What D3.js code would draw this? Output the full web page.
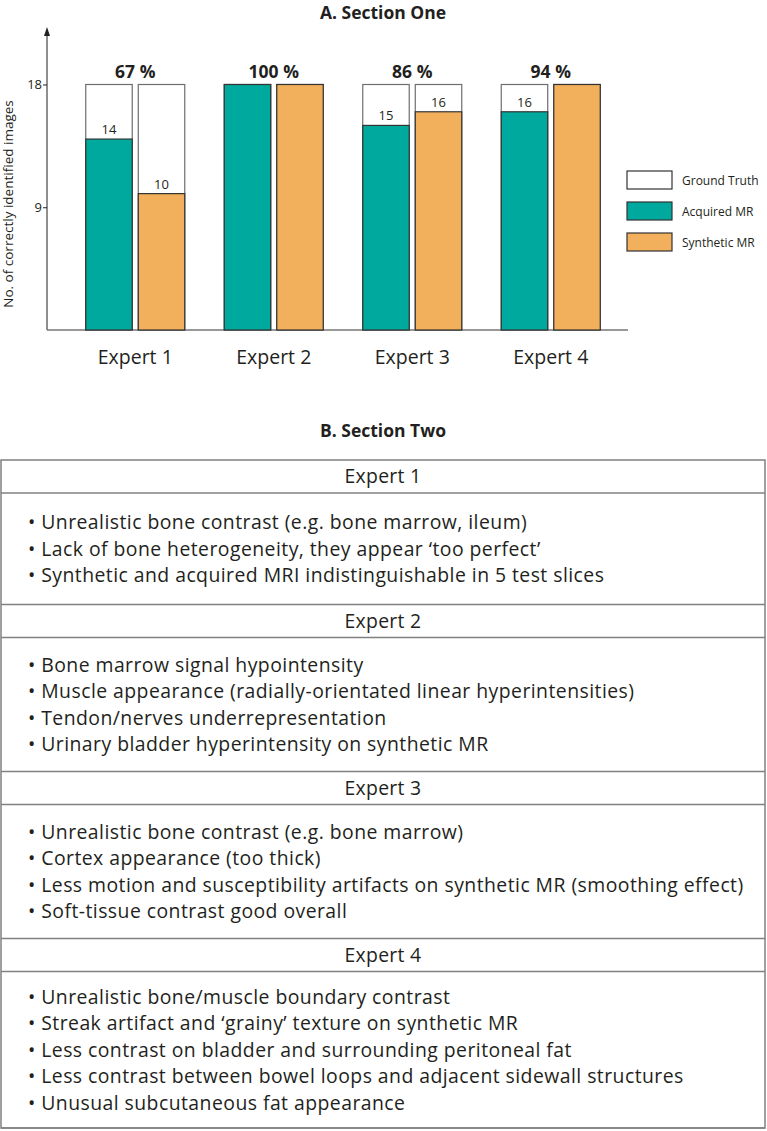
<!DOCTYPE html>
<html>
<head>
<meta charset="utf-8">
<script src="https://cdn.jsdelivr.net/npm/d3@7"></script>
<style>
  body { margin: 0; background: #fff; }
  svg text { font-family: "Open Sans", sans-serif; fill: #231f20; }
</style>
</head>
<body>
<div id="chart"></div>
<script>
// data
const experts = ["Expert 1", "Expert 2", "Expert 3", "Expert 4"];
const groundTruth = [18, 18, 18, 18];
const acquired = [14, 18, 15, 16];
const synthetic = [10, 18, 16, 18];
const accuracy = [67, 100, 86, 94];
const yTicks = [9, 18];
const legendLabels = ["Ground Truth", "Acquired MR", "Synthetic MR"];

const notes1 = [
  "Unrealistic bone contrast (e.g. bone marrow, ileum)",
  "Lack of bone heterogeneity, they appear  \u2018too perfect\u2019",
  "Synthetic and acquired MRI indistinguishable in 5 test slices"
];
const notes2 = [
  "Bone marrow signal hypointensity",
  "Muscle appearance (radially-orientated linear hyperintensities)",
  "Tendon/nerves underrepresentation",
  "Urinary bladder hyperintensity on synthetic MR"
];
const notes3 = [
  "Unrealistic bone contrast (e.g. bone marrow)",
  "Cortex appearance (too thick)",
  "Less motion and susceptibility artifacts on synthetic MR (smoothing effect)",
  "Soft-tissue contrast good overall"
];
const notes4 = [
  "Unrealistic bone/muscle boundary contrast",
  "Streak artifact and \u2018grainy\u2019 texture on synthetic MR",
  "Less contrast on bladder and surrounding peritoneal fat",
  "Less contrast between bowel loops and adjacent sidewall structures",
  "Unusual subcutaneous fat appearance"
];

const WIDTH = 767;
const HEIGHT = 1131;
const COLORS = { truth: "#ffffff", acquired: "#00a99d", synthetic: "#f2b05c" };

const svg = d3.select("#chart").append("svg")
  .attr("width", WIDTH)
  .attr("height", HEIGHT);

// ---------- Section A: bar chart ----------
const AXIS_X = 47;
const BASE_Y = 330;

svg.append("text")
  .attr("x", 383).attr("y", 19)
  .attr("text-anchor", "middle")
  .attr("font-size", "17.5px")
  .attr("font-weight", "bold")
  .text("A. Section One");

const x = d3.scaleBand().domain(experts).range([66, 620]);
const inner = d3.scaleBand()
  .domain(["acquired", "synthetic"])
  .range([x.bandwidth() / 2 - 49.5, x.bandwidth() / 2 + 49.5])
  .paddingInner(0.115);
const y = d3.scaleLinear().domain([0, 18]).range([BASE_Y, 84.5]);

// axes
svg.append("line")
  .attr("x1", AXIS_X).attr("x2", AXIS_X)
  .attr("y1", BASE_Y).attr("y2", 34)
  .attr("stroke", "#231f20").attr("stroke-width", 1);
svg.append("path")
  .attr("d", `M${AXIS_X - 3},${36} L${AXIS_X},${27} L${AXIS_X + 3},${36} Z`)
  .attr("fill", "#231f20");

const yAxis = svg.append("g")
  .attr("transform", `translate(${AXIS_X},0)`)
  .call(d3.axisLeft(y).tickValues(yTicks).tickSize(4).tickSizeOuter(0));
yAxis.select(".domain").remove();
yAxis.selectAll(".tick line").attr("stroke", "#231f20");
yAxis.selectAll(".tick text")
  .attr("font-size", "13px")
  .attr("font-family", "Open Sans, sans-serif")
  .attr("fill", "#231f20")
  .attr("x", -5);

svg.append("text")
  .attr("transform", `translate(13, 204) rotate(-90)`)
  .attr("text-anchor", "middle")
  .attr("font-size", "13.5px")
  .text("No. of correctly identified images");

svg.append("line")
  .attr("x1", AXIS_X).attr("x2", 628)
  .attr("y1", BASE_Y).attr("y2", BASE_Y)
  .attr("stroke", "#777").attr("stroke-width", 1.5);

const rows = experts.map((e, i) => ({
  expert: e,
  truth: groundTruth[i],
  acquired: acquired[i],
  synthetic: synthetic[i],
  pct: accuracy[i]
}));

const groups = svg.selectAll(".group")
  .data(rows)
  .join("g")
  .attr("class", "group")
  .attr("transform", (d) => `translate(${x(d.expert)},0)`);

["acquired", "synthetic"].forEach((key) => {
  // ground truth outline behind
  groups.append("rect")
    .attr("x", inner(key))
    .attr("y", (d) => y(d.truth))
    .attr("width", inner.bandwidth())
    .attr("height", (d) => BASE_Y - y(d.truth))
    .attr("fill", COLORS.truth)
    .attr("stroke", "#6d6e71")
    .attr("stroke-width", 1.2);

  groups.append("rect")
    .attr("x", inner(key))
    .attr("y", (d) => y(d[key]))
    .attr("width", inner.bandwidth())
    .attr("height", (d) => BASE_Y - y(d[key]))
    .attr("fill", COLORS[key])
    .attr("stroke", "#333")
    .attr("stroke-width", 1.2);

  groups.filter((d) => d[key] < d.truth)
    .append("text")
    .attr("x", inner(key) + inner.bandwidth() / 2)
    .attr("y", (d) => y(d[key]) - 5)
    .attr("text-anchor", "middle")
    .attr("font-size", "13px")
    .text((d) => d[key]);
});

groups.append("text")
  .attr("x", x.bandwidth() / 2)
  .attr("y", 78)
  .attr("text-anchor", "middle")
  .attr("font-size", "17.5px")
  .attr("font-weight", "bold")
  .attr("fill", "#333")
  .text((d) => d.pct + " %");

groups.append("text")
  .attr("x", x.bandwidth() / 2)
  .attr("y", 364)
  .attr("text-anchor", "middle")
  .attr("font-size", "19.5px")
  .text((d) => d.expert);

// legend
const legend = svg.selectAll(".legend")
  .data(legendLabels)
  .join("g")
  .attr("class", "legend")
  .attr("transform", (d, i) => `translate(627, ${171 + i * 31})`);
legend.append("rect")
  .attr("width", 45).attr("height", 18)
  .attr("fill", (d, i) => [COLORS.truth, COLORS.acquired, COLORS.synthetic][i])
  .attr("stroke", "#333").attr("stroke-width", 1.2);
legend.append("text")
  .attr("x", 55).attr("y", 13.5)
  .attr("font-size", "12px")
  .text((d) => d);

// ---------- Section B: comments table ----------
svg.append("text")
  .attr("x", 383).attr("y", 437)
  .attr("text-anchor", "middle")
  .attr("font-size", "17.5px")
  .attr("font-weight", "bold")
  .text("B. Section Two");

const notes = [notes1, notes2, notes3, notes4];
const TABLE_LEFT = 1;
const TABLE_RIGHT = 765;
const TABLE_TOP = 460;
const HEADER_H = 33;
const LINE_H = 26.5;
const FONT = 19.4;

let cursorY = TABLE_TOP;
const blocks = notes.map((list, i) => {
  const bodyH = 22.5 * list.length + 44;
  const b = { name: experts[i], list, top: cursorY, bodyTop: cursorY + HEADER_H, bodyH };
  cursorY += HEADER_H + bodyH;
  return b;
});
const tableBottom = cursorY;

const table = svg.append("g");
blocks.forEach((b) => {
  table.append("text")
    .attr("x", (TABLE_LEFT + TABLE_RIGHT) / 2)
    .attr("y", b.top + HEADER_H / 2)
    .attr("dy", "0.35em")
    .attr("text-anchor", "middle")
    .attr("font-size", FONT + "px")
    .attr("letter-spacing", "0.3px")
    .text(b.name);

  const mid = b.bodyTop + b.bodyH / 2;
  const first = mid - ((b.list.length - 1) * LINE_H) / 2;
  table.selectAll(null)
    .data(b.list)
    .join("text")
    .attr("x", 28)
    .attr("y", (d, j) => first + j * LINE_H)
    .attr("dy", "0.35em")
    .attr("font-size", FONT + "px")
    .attr("letter-spacing", "0.45px")
    .text((d) => "\u2022 " + d);

  // lines under header and under body
  [b.bodyTop, b.bodyTop + b.bodyH].forEach((ly) => {
    table.append("line")
      .attr("x1", TABLE_LEFT).attr("x2", TABLE_RIGHT)
      .attr("y1", ly).attr("y2", ly)
      .attr("stroke", "#808080").attr("stroke-width", 1.5);
  });
});

table.append("rect")
  .attr("x", TABLE_LEFT).attr("y", TABLE_TOP)
  .attr("width", TABLE_RIGHT - TABLE_LEFT)
  .attr("height", tableBottom - TABLE_TOP)
  .attr("fill", "none")
  .attr("stroke", "#808080")
  .attr("stroke-width", 1.5);
</script>
</body>
</html>
